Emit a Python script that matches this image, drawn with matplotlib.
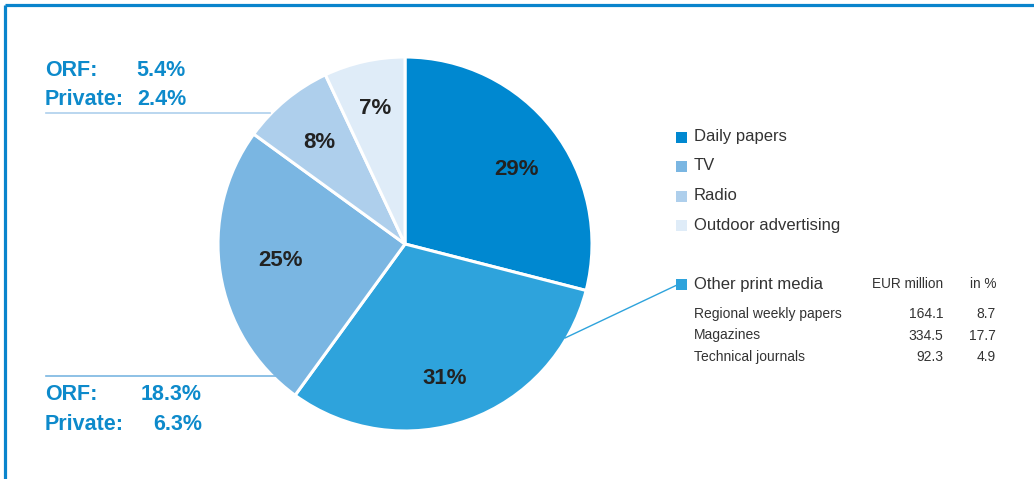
import matplotlib
matplotlib.use('Agg')
import matplotlib.pyplot as plt
from matplotlib.patches import Rectangle

plt.rcParams['font.family'] = ['Liberation Sans', 'DejaVu Sans']

# advertising market shares, clockwise from 12 o'clock
segments = ['Daily papers', 'Other print media', 'TV', 'Radio', 'Outdoor advertising']
shares = [29, 31, 25, 8, 7]
colours = ['#0088d0', '#2ea3dc', '#7ab6e2', '#aecfec', '#dfecf8']

legend_top = ['Daily papers', 'TV', 'Radio', 'Outdoor advertising']

# breakdown of other print media
print_rows = ['Regional weekly papers', 'Magazines', 'Technical journals']
print_eur = [164.1, 334.5, 92.3]
print_pct = [8.7, 17.7, 4.9]

# public vs private split for radio and TV
radio_split = [('ORF:', 5.4), ('Private:', 2.4)]
tv_split = [('ORF:', 18.3), ('Private:', 6.3)]

W, H = 1034, 479
blue = '#0d8acb'
dark = '#222222'
grey = '#333333'

fig = plt.figure(figsize=(W / 100, H / 100), dpi=100)
ax = fig.add_axes([0, 0, 1, 1])

cx, cy, r = 405, 244, 187
# y axis points down, so counterclock in data space is clockwise on screen
wedges, _, autotexts = ax.pie(
    shares, colors=colours, startangle=-90, counterclock=True,
    center=(cx, cy), radius=r, autopct='%.0f%%', pctdistance=0.72,
    wedgeprops=dict(edgecolor='white', linewidth=2.2),
    textprops=dict(fontsize=16, fontweight='bold', color=dark))

# nudge the percentage labels a little off the mid-angle
nudges = [(5, 8), (-6, 8), (8, -5), (0, 2), (-1, -4)]
for t, (dx, dy) in zip(autotexts, nudges):
    x, y = t.get_position()
    t.set_position((x + dx, y + dy))

ax.set_xlim(0, W)
ax.set_ylim(H, 0)
ax.set_aspect('auto')
ax.axis('off')

# frame
ax.plot([4.7, W], [4.7, 4.7], color='#0a84cc', lw=2.3, solid_capstyle='butt')
ax.plot([4.7, 4.7], [4.7, H], color='#0a84cc', lw=2.3, solid_capstyle='butt')

# callouts for radio and TV
ax.plot([46, 270], [113.3, 113.3], color='#aecfec', lw=1.2)
ax.plot([46, 277], [375.7, 375.7], color='#7ab6e2', lw=1.2)
ax.plot([565, 677], [338, 285], color='#2ea3dc', lw=1.0)

lab = dict(color=blue, fontsize=15.5, fontweight='bold', va='center')
for i, (name, val) in enumerate(radio_split):
    y = 70 + i * 29
    ax.text(45, y, name, **lab)
    ax.text(186, y, f'{val:.1f}%', ha='right', **lab)
for i, (name, val) in enumerate(tv_split):
    y = 395 + i * 29
    ax.text(45, y, name, **lab)
    ax.text(202, y, f'{val:.1f}%', ha='right', **lab)

# legend
legend_y = [137, 166, 196, 225]
for name, y in zip(legend_top, legend_y):
    c = colours[segments.index(name)]
    ax.add_patch(Rectangle((676, y - 5.5), 11, 11, color=c, lw=0))
    ax.text(694, y, name, fontsize=12, color=grey, va='center')

y0 = 284
ax.add_patch(Rectangle((676, y0 - 5.5), 11, 11, color=colours[1], lw=0))
ax.text(694, y0, 'Other print media', fontsize=12, color=grey, va='center')
ax.text(943, y0, 'EUR million', fontsize=9.8, color=grey, va='center', ha='right')
ax.text(996, y0, 'in %', fontsize=9.8, color=grey, va='center', ha='right')

row_y = [314, 335.5, 357]
for name, eur, pct, y in zip(print_rows, print_eur, print_pct, row_y):
    ax.text(694, y, name, fontsize=10, color=grey, va='center')
    ax.text(943, y, f'{eur:.1f}', fontsize=10, color=grey, va='center', ha='right')
    ax.text(996, y, f'{pct:.1f}', fontsize=10, color=grey, va='center', ha='right')

fig.savefig('out.png', dpi=100)
